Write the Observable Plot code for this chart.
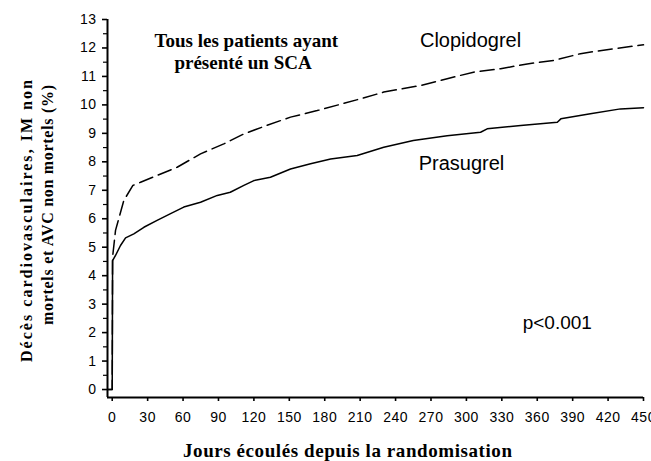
<!DOCTYPE html>
<html>
<head>
<meta charset="utf-8">
<script src="https://cdn.jsdelivr.net/npm/d3@7"></script>
<script src="https://cdn.jsdelivr.net/npm/@observablehq/plot@0.6"></script>
<style>
  html, body { margin: 0; padding: 0; background: #fff; }
</style>
</head>
<body>
<div id="chart"></div>
<script>
// ---- Data ----
const clopiDays = [-4, 0, 0.3, 2.8, 9.8, 17.5, 24, 38, 55, 74.8, 94.5, 111.5, 131, 151, 173.6, 210, 230, 261, 283.7, 306, 329, 351.5, 374, 396.6, 419, 450];
const clopiRate = [0, 0, 4.65, 5.59, 6.64, 7.17, 7.28, 7.52, 7.81, 8.28, 8.63, 8.98, 9.28, 9.57, 9.80, 10.21, 10.45, 10.68, 10.92, 11.15, 11.27, 11.44, 11.56, 11.80, 11.94, 12.11];

const prasuDays = [-4, 0, 0.3, 2.8, 7, 11.3, 18.3, 26.8, 38, 49, 60.6, 74.8, 89, 100, 111.5, 120, 134, 151, 168, 185, 207.5, 230, 255, 283.7, 312, 317.6, 346, 377, 380, 405, 430.5, 450];
const prasuRate = [0, 0, 4.53, 4.71, 5.06, 5.33, 5.47, 5.70, 5.94, 6.17, 6.41, 6.58, 6.82, 6.93, 7.17, 7.34, 7.46, 7.75, 7.93, 8.10, 8.22, 8.51, 8.75, 8.92, 9.04, 9.16, 9.28, 9.39, 9.51, 9.69, 9.86, 9.90];

const xTicks = d3.range(0, 451, 30);
const yTicks = d3.range(0, 14, 1);
const yMinorTicks = d3.range(0.5, 13, 1);

const seriesLabels = [
  {name: "Clopidogrel", day: 303.5, rate: 12.26},
  {name: "Prasugrel", day: 295.8, rate: 7.94}
];
const pLabel = [{text: "p<0.001", day: 377, rate: 2.33}];
const titleLines = [
  {text: "Tous les patients ayant", day: 113.6, rate: 12.26},
  {text: "présenté un SCA", day: 110.8, rate: 11.49}
];
const yTitleLines = ["Décès cardiovasculaires, IM non", "mortels et AVC non mortels (%)"];
const xTitle = "Jours écoulés depuis la randomisation";

const clopi = clopiDays.map((d, i) => ({day: d, rate: clopiRate[i]}));
const prasu = prasuDays.map((d, i) => ({day: d, rate: prasuRate[i]}));

const chart = Plot.plot({
  width: 651,
  height: 461,
  marginLeft: 107,
  marginRight: 8,
  marginTop: 19,
  marginBottom: 64,
  style: {fontFamily: "'Liberation Sans', Arial, sans-serif", fontSize: "14px", background: "#fff", color: "#000"},
  x: {domain: [-4, 450]},
  y: {domain: [-0.28, 13]},
  marks: [
    Plot.line(clopi, {x: "day", y: "rate", stroke: "#000", strokeWidth: 1.5, strokeDasharray: "14,6"}),
    Plot.line(prasu, {x: "day", y: "rate", stroke: "#000", strokeWidth: 1.5}),
    Plot.axisX({ticks: xTicks, tickSize: 4, tickPadding: 11, strokeWidth: 1.6, fontSize: 14, label: null, tickFormat: d => String(d)}),
    Plot.axisY({ticks: yTicks, tickSize: 5, tickPadding: 6, strokeWidth: 1.6, fontSize: 14, label: null, tickFormat: d => String(d)}),
    Plot.axisY({ticks: yMinorTicks, tickSize: 4, tickFormat: () => "", strokeWidth: 1.2, label: null}),
    Plot.ruleY([-0.28], {stroke: "#000", strokeWidth: 2}),
    Plot.ruleX([-4], {stroke: "#000", strokeWidth: 2}),
    Plot.text(seriesLabels, {x: "day", y: "rate", text: "name", fontSize: 20, fill: "#000"}),
    Plot.text(pLabel, {x: "day", y: "rate", text: "text", fontSize: 19, fill: "#000"}),
    Plot.text(titleLines, {x: "day", y: "rate", text: "text", fontSize: 19, fontWeight: "bold", fontFamily: "'Liberation Serif', 'Times New Roman', serif", fill: "#000"})
  ]
});

const svg = d3.select(chart);
svg.selectAll("[aria-label='x-axis tick label'] text, [aria-label='y-axis tick label'] text").style("letter-spacing", "0.5px");

// axis titles
const serif = "'Liberation Serif', 'Times New Roman', serif";
const yT = [
  {x: 26, y: 221, len: 282},
  {x: 47, y: 205, len: 240}
];
yTitleLines.forEach((t, i) => {
  svg.append("text")
    .attr("transform", `translate(${yT[i].x},${yT[i].y}) rotate(-90)`)
    .attr("text-anchor", "middle")
    .attr("dominant-baseline", "central")
    .attr("textLength", yT[i].len)
    .attr("lengthAdjust", "spacing")
    .style("font-family", serif)
    .style("font-weight", "bold")
    .style("font-size", "16px")
    .attr("fill", "#000")
    .text(t);
});
svg.append("text")
  .attr("x", 347.5)
  .attr("y", 450)
  .attr("text-anchor", "middle")
  .attr("dominant-baseline", "central")
  .attr("textLength", 329)
  .attr("lengthAdjust", "spacing")
  .style("font-family", serif)
  .style("font-weight", "bold")
  .style("font-size", "19px")
  .attr("fill", "#000")
  .text(xTitle);

document.getElementById("chart").append(chart);
</script>
</body>
</html>
